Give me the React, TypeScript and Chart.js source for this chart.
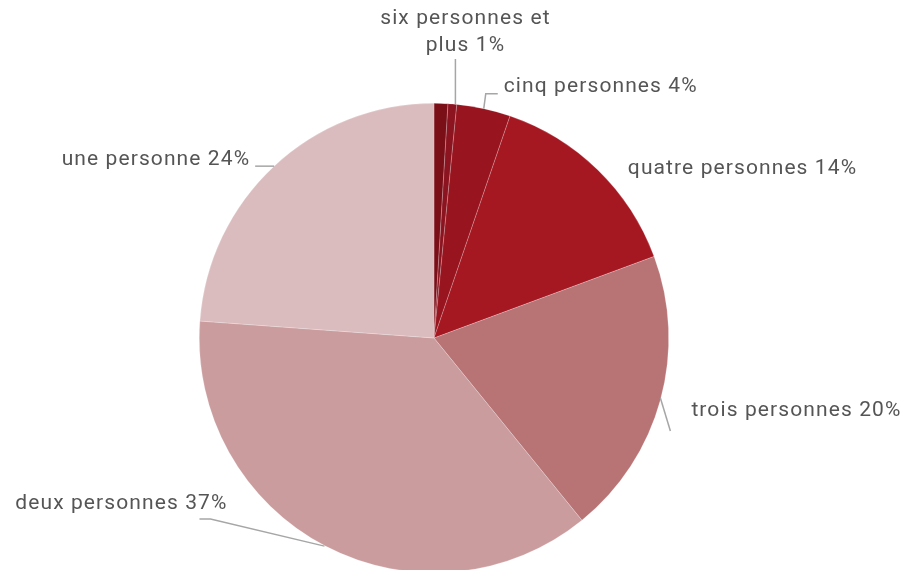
import React, { useEffect, useRef } from "react";
import { Chart, registerables } from "chart.js";

Chart.register(...registerables);

const categories = [
  "",
  "six personnes et plus",
  "cinq personnes",
  "quatre personnes",
  "trois personnes",
  "deux personnes",
  "une personne",
];
const values = [0.95, 0.6, 3.7, 14.1, 19.8, 37.0, 23.85];
const labelTexts = [
  [],
  ["six personnes et", "plus 1%"],
  ["cinq personnes 4%"],
  ["quatre personnes 14%"],
  ["trois personnes 20%"],
  ["deux personnes 37%"],
  ["une personne 24%"],
];
const colors = ["#7b0f18", "#8c1420", "#98151f", "#a51721", "#b87375", "#ca9c9e", "#dabcbe"];

// label layout relative to the slice's outer mid point
const labelLayout: any[] = [
  null,
  { dx: 13, dy: -85, lineH: 27, align: "center", leader: [[3, 0], [3, -45]] },
  { dx: 20, dy: -22, lineH: 27, align: "left", leader: [[0, 0], [2, -15], [14, -15]] },
  { dx: 30, dy: -1, lineH: 27, align: "left", leader: null },
  { dx: 31, dy: 11, lineH: 27, align: "left", leader: [[0, -2], [10, 31]] },
  { dx: -98, dy: -42, lineH: 27, align: "right", leader: [[-1, 0], [-115, -27], [-126, -27]] },
  { dx: -24, dy: -6, lineH: 27, align: "right", leader: [[0, 0], [-19, 0]] },
];

const labelPlugin = {
  id: "outsideLabels",
  afterDatasetsDraw(chart: any) {
    const ctx = chart.ctx;
    const meta = chart.getDatasetMeta(0);
    ctx.save();
    meta.data.forEach((arc: any, i: number) => {
      const cfg = labelLayout[i];
      if (!cfg) return;
      const { x, y, startAngle, endAngle, outerRadius } = arc.getProps(
        ["x", "y", "startAngle", "endAngle", "outerRadius"],
        true
      );
      const mid = (startAngle + endAngle) / 2;
      const ex = x + Math.cos(mid) * outerRadius;
      const ey = y + Math.sin(mid) * outerRadius;
      if (cfg.leader) {
        ctx.strokeStyle = "#a6a6a6";
        ctx.lineWidth = 1.5;
        ctx.beginPath();
        cfg.leader.forEach((p: number[], k: number) => {
          if (k === 0) ctx.moveTo(ex + p[0], ey + p[1]);
          else ctx.lineTo(ex + p[0], ey + p[1]);
        });
        ctx.stroke();
      }
      ctx.fillStyle = "#555555";
      ctx.font = "21px Roboto";
      (ctx as any).letterSpacing = "1.1px";
      ctx.textAlign = cfg.align;
      ctx.textBaseline = "middle";
      labelTexts[i].forEach((t: string, k: number) => {
        ctx.fillText(t, ex + cfg.dx, ey + cfg.dy + k * cfg.lineH);
      });
    });
    ctx.restore();
  },
};

export default function App() {
  const ref = useRef<HTMLCanvasElement>(null);
  useEffect(() => {
    document.body.style.margin = "0";
    const chart = new Chart(ref.current!, {
      type: "pie",
      data: {
        labels: categories,
        datasets: [
          {
            data: values,
            backgroundColor: colors,
            borderColor: "rgba(255,255,255,0.35)",
            borderWidth: 0.6,
          },
        ],
      },
      options: {
        animation: false,
        responsive: false,
        devicePixelRatio: 1,
        layout: { padding: { top: 103, bottom: 7, left: 199, right: 237 } },
        plugins: { legend: { display: false }, tooltip: { enabled: false } },
      },
      plugins: [labelPlugin],
    });
    return () => chart.destroy();
  }, []);
  return (
    <div style={{ width: 906, height: 580, background: "#fff" }}>
      <canvas ref={ref} width={906} height={580} style={{ display: "block" }} />
    </div>
  );
}
